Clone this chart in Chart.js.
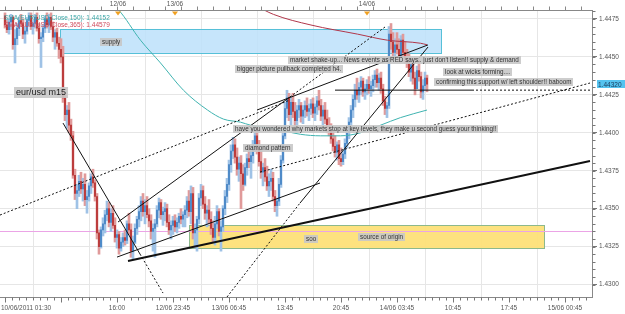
<!DOCTYPE html>
<html><head><meta charset="utf-8">
<script src="https://cdn.jsdelivr.net/npm/chart.js@4.4.1/dist/chart.umd.min.js"></script>
<style>html,body{margin:0;padding:0;background:#fff;}</style>
</head><body>
<canvas id="c" width="625" height="314"></canvas>
<script>
// ---- data: EUR/USD m15 candles (index = candle number) ----
const firstOpen = 1.4477;
const highs = [
1.4479,1.4474,1.4475,1.4478,1.4477,1.4468,1.4472,1.4476,1.4478,1.4475,
1.4470,1.4476,1.4479,1.4479,1.4474,1.4478,1.4479,1.4472,1.4466,1.4471,
1.4477,1.4479,1.4478,1.4479,1.4473,1.4468,1.4469,1.4463,1.4462,1.4457,
1.4426,1.4418,1.4420,1.4409,1.4401,1.4376,1.4366,1.4372,1.4374,1.4370,
1.4373,1.4362,1.4367,1.4373,1.4376,1.4369,1.4360,1.4336,1.4338,1.4344,
1.4349,1.4355,1.4354,1.4350,1.4352,1.4344,1.4336,1.4335,1.4331,1.4334,
1.4336,1.4342,1.4347,1.4340,1.4332,1.4340,1.4345,1.4352,1.4358,1.4360,
1.4356,1.4358,1.4350,1.4346,1.4340,1.4343,1.4352,1.4357,1.4356,1.4351,
1.4354,1.4353,1.4346,1.4342,1.4345,1.4346,1.4344,1.4347,1.4350,1.4348,
1.4352,1.4358,1.4362,1.4365,1.4364,1.4340,1.4345,1.4360,1.4366,1.4365,
1.4358,1.4352,1.4356,1.4348,1.4342,1.4345,1.4352,1.4350,1.4342,1.4352,
1.4362,1.4370,1.4382,1.4392,1.4397,1.4396,1.4390,1.4384,1.4385,1.4379,
1.4380,1.4386,1.4390,1.4388,1.4395,1.4403,1.4404,1.4395,1.4388,1.4380,
1.4383,1.4378,1.4373,1.4376,1.4374,1.4362,1.4357,1.4370,1.4385,1.4402,
1.4420,1.4428,1.4426,1.4424,1.4426,1.4420,1.4418,1.4422,1.4420,1.4418,
1.4421,1.4423,1.4419,1.4422,1.4423,1.4419,1.4424,1.4428,1.4422,1.4418,
1.4420,1.4415,1.4410,1.4406,1.4401,1.4398,1.4394,1.4395,1.4390,1.4388,
1.4396,1.4403,1.4410,1.4418,1.4425,1.4432,1.4436,1.4433,1.4437,1.4436,
1.4432,1.4435,1.4437,1.4434,1.4438,1.4441,1.4442,1.4439,1.4440,1.4432,
1.4424,1.4420,1.4470,1.4472,1.4466,1.4462,1.4466,1.4462,1.4464,1.4465,
1.4460,1.4455,1.4452,1.4448,1.4449,1.4440,1.4444,1.4448,1.4440,1.4435,
1.4440,1.4438];
const lows = [
1.4469,1.4466,1.4465,1.4468,1.4455,1.4446,1.4458,1.4464,1.4470,1.4462,
1.4459,1.4465,1.4470,1.4468,1.4465,1.4469,1.4467,1.4459,1.4443,1.4460,
1.4466,1.4469,1.4466,1.4468,1.4460,1.4455,1.4457,1.4449,1.4446,1.4420,
1.4408,1.4403,1.4400,1.4395,1.4370,1.4356,1.4350,1.4358,1.4360,1.4355,
1.4352,1.4347,1.4355,1.4360,1.4364,1.4355,1.4330,1.4320,1.4324,1.4332,
1.4334,1.4342,1.4338,1.4335,1.4337,1.4328,1.4324,1.4320,1.4322,1.4325,
1.4326,1.4327,1.4333,1.4318,1.4317,1.4327,1.4333,1.4338,1.4342,1.4345,
1.4340,1.4344,1.4338,1.4330,1.4322,1.4318,1.4338,1.4344,1.4343,1.4339,
1.4342,1.4338,1.4333,1.4330,1.4333,1.4335,1.4334,1.4337,1.4340,1.4338,
1.4338,1.4344,1.4345,1.4340,1.4330,1.4324,1.4322,1.4340,1.4352,1.4350,
1.4343,1.4338,1.4340,1.4333,1.4328,1.4326,1.4337,1.4332,1.4322,1.4335,
1.4346,1.4354,1.4362,1.4374,1.4383,1.4380,1.4372,1.4368,1.4350,1.4362,
1.4365,1.4372,1.4377,1.4370,1.4380,1.4388,1.4386,1.4378,1.4370,1.4365,
1.4368,1.4362,1.4358,1.4362,1.4355,1.4348,1.4345,1.4352,1.4364,1.4380,
1.4396,1.4410,1.4408,1.4405,1.4410,1.4404,1.4405,1.4410,1.4407,1.4406,
1.4410,1.4411,1.4408,1.4412,1.4410,1.4408,1.4412,1.4415,1.4408,1.4405,
1.4406,1.4400,1.4398,1.4393,1.4388,1.4384,1.4382,1.4379,1.4378,1.4379,
1.4383,1.4390,1.4396,1.4402,1.4410,1.4417,1.4422,1.4420,1.4425,1.4424,
1.4422,1.4425,1.4426,1.4424,1.4427,1.4430,1.4430,1.4428,1.4426,1.4418,
1.4412,1.4410,1.4416,1.4455,1.4450,1.4448,1.4452,1.4447,1.4447,1.4450,
1.4446,1.4443,1.4437,1.4434,1.4432,1.4425,1.4430,1.4434,1.4423,1.4422,
1.4428,1.4427];
const closes = [
1.4471,1.4468,1.4473,1.4476,1.4458,1.4462,1.4469,1.4474,1.4472,1.4465,
1.4467,1.4474,1.4477,1.4470,1.4472,1.4476,1.4469,1.4462,1.4463,1.4469,
1.4475,1.4471,1.4476,1.4470,1.4463,1.4466,1.4459,1.4455,1.4450,1.4423,
1.4412,1.4415,1.4405,1.4398,1.4372,1.4360,1.4362,1.4368,1.4363,1.4366,
1.4356,1.4358,1.4365,1.4371,1.4367,1.4358,1.4334,1.4325,1.4336,1.4340,
1.4346,1.4350,1.4341,1.4347,1.4339,1.4331,1.4333,1.4324,1.4328,1.4331,
1.4329,1.4340,1.4336,1.4322,1.4328,1.4337,1.4343,1.4348,1.4355,1.4348,
1.4352,1.4346,1.4342,1.4335,1.4337,1.4340,1.4349,1.4354,1.4346,1.4348,
1.4350,1.4341,1.4336,1.4339,1.4342,1.4338,1.4341,1.4345,1.4343,1.4346,
1.4349,1.4355,1.4348,1.4360,1.4334,1.4336,1.4343,1.4357,1.4362,1.4353,
1.4347,1.4349,1.4343,1.4337,1.4331,1.4340,1.4348,1.4335,1.4338,1.4350,
1.4358,1.4366,1.4379,1.4388,1.4392,1.4384,1.4376,1.4380,1.4373,1.4366,
1.4377,1.4383,1.4381,1.4385,1.4392,1.4398,1.4389,1.4381,1.4374,1.4377,
1.4371,1.4365,1.4368,1.4370,1.4358,1.4352,1.4355,1.4366,1.4382,1.4398,
1.4416,1.4423,1.4412,1.4420,1.4414,1.4408,1.4415,1.4418,1.4411,1.4415,
1.4418,1.4414,1.4416,1.4419,1.4413,1.4417,1.4421,1.4418,1.4411,1.4415,
1.4409,1.4404,1.4401,1.4396,1.4391,1.4387,1.4392,1.4383,1.4381,1.4386,
1.4393,1.4400,1.4407,1.4415,1.4422,1.4428,1.4425,1.4430,1.4434,1.4427,
1.4429,1.4432,1.4429,1.4431,1.4435,1.4438,1.4433,1.4436,1.4429,1.4421,
1.4416,1.4418,1.4465,1.4460,1.4453,1.4458,1.4455,1.4450,1.4461,1.4453,
1.4449,1.4446,1.4440,1.4445,1.4436,1.4429,1.4441,1.4437,1.4427,1.4431,
1.4436,1.4432];

// moving averages (candle index, value)
const sma150Idx = [52, 56.75, 67.75, 77.75, 89.25, 101.25, 109.25, 117.75, 122.75, 132.75, 140.25, 147.75, 157.75, 167.75, 177.75, 187.75, 197.75, 211];
const sma150Val = [1.4486, 1.4481, 1.4461, 1.4446, 1.4428, 1.4415, 1.4409, 1.4407, 1.4405, 1.4403, 1.4401, 1.4399, 1.4398, 1.4398, 1.4400, 1.4405, 1.4410, 1.4415];
const sma365Idx = [125, 134.25, 153, 176.25, 191.25, 207.75, 211];
const sma365Val = [1.4484, 1.4478, 1.4471, 1.4465, 1.4461, 1.4459, 1.4458];
const smaLegend = ["SMA(EUR/USD,Close,150): 1.44152", "SMA(EUR/USD,Close,365): 1.44579"];

// x-axis labels (candle index of each major tick)
const xTickIdx = [0, 28, 56, 84, 112, 140, 168, 196, 224, 252, 280];
const xTickLabels = ["10/06/2011 01:30", "", "16:00", "12/06 23:45", "13/06 06:45", "13:45", "20:45", "14/06 03:45", "10:45", "17:45", "15/06 00:45"];
const dayIdx = [56.5, 85, 181];
const dayLabels = ["12/06", "13/06", "14/06"];
const yTicks = [1.4300, 1.4325, 1.4350, 1.4375, 1.4400, 1.4425, 1.4450, 1.4475];
const lastPrice = 1.44320;

// zones [fromIdx, toIdx, lowPrice, highPrice]
const supplyZone = [27.5, 218, 1.44526, 1.44684];
const originZone = [92, 269.5, 1.43241, 1.43392];
const pinkLevel = 1.43353;

// trend lines [x1, y1, x2, y2, dashed?, width]
const trendLines = [
  [29, 1.44064, 67.5, 1.43201, false, 1],
  [67.5, 1.43201, 79, 1.42944, true, 1],
  [61.5, 1.43155, 292.5, 1.43814, false, 2],
  [-2.5, 1.43458, 142.5, 1.44216, true, 1],
  [56, 1.43181, 157.5, 1.43669, false, 1],
  [56.5, 1.43412, 142.5, 1.44236, false, 1],
  [142.5, 1.44236, 190, 1.44697, true, 1],
  [126, 1.44150, 211.5, 1.44579, false, 1],
  [111, 1.42918, 147.5, 1.43537, true, 1],
  [147.5, 1.43537, 211.5, 1.44565, false, 1],
  [127.5, 1.43741, 292.5, 1.44328, true, 1],
  [165, 1.44281, 233.5, 1.44281, false, 1],
  [233.5, 1.44281, 292.5, 1.44281, true, 1]
];

// text notes [idx, price, text, align]
const notes = [
  [53, 1.44598, "supply", "center"],
  [141.5, 1.44480, "market shake-up... News events as RED says.. just don't listen!! supply & demand", "left"],
  [115, 1.44420, "bigger picture pullback completed h4.", "left"],
  [219, 1.44401, "look at wicks forming....", "left"],
  [214.5, 1.44335, "confirming this support w/ left shoulder!! baboom", "left"],
  [114, 1.44025, "have you wondered why markets stop at key levels, they make u second guess your thinking!!", "left"],
  [119, 1.43900, "diamond pattern", "left"],
  [149.5, 1.43300, "soo", "left"],
  [176.5, 1.43313, "source of origin", "left"]
];

// ---- build datasets ----
const opens = closes.map((c, i) => i === 0 ? firstOpen : closes[i - 1]);
const UP = '#3f7fc2', DOWN = '#b52a2a', UPW = '#9fc2e6', DOWNW = '#e09a9a';
const wickData = highs.map((h, i) => ({x: i, y: [Math.min(lows[i], opens[i], closes[i]), Math.max(h, opens[i], closes[i])]}));
const bodyData = closes.map((c, i) => ({x: i, y: [opens[i], c === opens[i] ? c + 0.00002 : c]}));
const wickCol = closes.map((c, i) => c >= opens[i] ? UPW : DOWNW);
const bodyCol = closes.map((c, i) => c >= opens[i] ? UP : DOWN);

const datasets = [
  {type: 'bar', data: wickData, backgroundColor: wickCol, barThickness: 2, grouped: false, order: 20},
  {type: 'bar', data: bodyData, backgroundColor: bodyCol, barThickness: 1, grouped: false, order: 19},
  {type: 'line', data: sma150Idx.map((x, i) => ({x, y: sma150Val[i]})), borderColor: '#3fb3b0', borderWidth: 1, pointRadius: 0, cubicInterpolationMode: 'monotone', order: 5},
  {type: 'line', data: sma365Idx.map((x, i) => ({x, y: sma365Val[i]})), borderColor: '#b0364a', borderWidth: 1, pointRadius: 0, cubicInterpolationMode: 'monotone', order: 5}
];
trendLines.forEach(t => datasets.push({
  type: 'line', data: [{x: t[0], y: t[1]}, {x: t[2], y: t[3]}], borderColor: '#111',
  borderWidth: t[5], borderDash: t[4] ? [2, 2] : [], pointRadius: 0, order: 2
}));

const FONT = '"Liberation Sans", Arial, sans-serif';

const extras = {
  id: 'extras',
  beforeDatasetsDraw(chart) {
    const {ctx, chartArea: a, scales: {x, y}} = chart;
    ctx.save();
    ctx.beginPath(); ctx.rect(a.left, a.top, a.right - a.left, a.bottom - a.top); ctx.clip();
    const zone = (z, fill, stroke) => {
      const x1 = x.getPixelForValue(z[0]), x2 = x.getPixelForValue(z[1]);
      const y1 = y.getPixelForValue(z[3]), y2 = y.getPixelForValue(z[2]);
      ctx.fillStyle = fill; ctx.fillRect(x1, y1, x2 - x1, y2 - y1);
      ctx.strokeStyle = stroke; ctx.lineWidth = 1;
      ctx.strokeRect(Math.round(x1) + 0.5, Math.round(y1) + 0.5, Math.round(x2 - x1), Math.round(y2 - y1));
    };
    zone(supplyZone, 'rgba(188,224,250,0.85)', '#56c0d8');
    zone(originZone, 'rgba(253,224,120,0.95)', '#8cb88c');
    const py = Math.round(y.getPixelForValue(pinkLevel)) + 0.5;
    ctx.strokeStyle = '#eba4e6'; ctx.beginPath(); ctx.moveTo(a.left, py); ctx.lineTo(a.right, py); ctx.stroke();
    ctx.restore();
  },
  afterDraw(chart) {
    const {ctx, chartArea: a, scales: {x, y}} = chart;
    ctx.save();
    // notes
    ctx.font = '6.3px ' + FONT; ctx.textBaseline = 'middle';
    notes.forEach(n => {
      const px = x.getPixelForValue(n[0]), py = y.getPixelForValue(n[1]);
      const w = ctx.measureText(n[2]).width + 4;
      const left = n[3] === 'center' ? px - w / 2 : px;
      ctx.fillStyle = 'rgba(200,200,200,0.9)';
      ctx.fillRect(Math.round(left), Math.round(py - 4), Math.round(w), 8);
      ctx.fillStyle = '#333'; ctx.textAlign = 'left';
      ctx.fillText(n[2], Math.round(left) + 2, py + 0.5);
    });
    // watermark label
    ctx.font = '9px ' + FONT;
    const wt = 'eur/usd m15', ww = ctx.measureText(wt).width + 4;
    ctx.fillStyle = 'rgba(200,200,200,0.9)'; ctx.fillRect(14, 87, ww, 11);
    ctx.fillStyle = '#222'; ctx.fillText(wt, 16, 93);
    // legend texts
    ctx.font = '6.5px ' + FONT;
    ctx.fillStyle = '#3aa6a6'; ctx.fillText(smaLegend[0], 4, 18);
    ctx.fillStyle = '#d0485a'; ctx.fillText(smaLegend[1], 4, 25);
    // top axis
    const top = Math.round(a.top) + 0.5;
    ctx.strokeStyle = '#888'; ctx.lineWidth = 1;
    ctx.beginPath(); ctx.moveTo(a.left, top); ctx.lineTo(a.right, top); ctx.stroke();
    for (let v = 0; v <= 292; v += 8) {
      const px = Math.round(x.getPixelForValue(v)) + 0.5;
      ctx.beginPath(); ctx.moveTo(px, top); ctx.lineTo(px, top - 4); ctx.stroke();
    }
    ctx.font = '6.5px ' + FONT; ctx.textAlign = 'center'; ctx.fillStyle = '#555';
    dayIdx.forEach((d, i) => {
      const px = x.getPixelForValue(d);
      ctx.fillText(dayLabels[i], px, 4);
      ctx.fillStyle = '#f0a020';
      ctx.beginPath(); ctx.moveTo(px - 3, top + 1); ctx.lineTo(px + 3, top + 1); ctx.lineTo(px, top + 5); ctx.closePath(); ctx.fill();
      ctx.fillStyle = '#555';
    });
    // bottom axis ticks + labels
    const bot = Math.round(a.bottom) + 0.5;
    ctx.strokeStyle = '#777';
    for (let v = 0; v <= 292; v += 3.5) {
      const px = Math.round(x.getPixelForValue(v)) + 0.5;
      const major = Math.abs(v % 28) < 0.01;
      ctx.beginPath(); ctx.moveTo(px, bot); ctx.lineTo(px, bot + (major ? 5 : 3)); ctx.stroke();
    }
    xTickIdx.forEach((v, i) => {
      if (!xTickLabels[i]) return;
      const px = x.getPixelForValue(v);
      ctx.textAlign = i === 0 ? 'left' : 'center';
      ctx.fillText(xTickLabels[i], i === 0 ? 1 : px, 308);
    });
    // right axis minor ticks
    const rx = Math.round(a.right) + 0.5;
    for (let p = 1.4300; p <= 1.4480; p += 0.0005) {
      const py = Math.round(y.getPixelForValue(p)) + 0.5;
      if (py < a.top || py > a.bottom) continue;
      ctx.beginPath(); ctx.moveTo(rx, py); ctx.lineTo(rx + 3, py); ctx.stroke();
    }
    // last price tag
    const ly = y.getPixelForValue(lastPrice);
    ctx.fillStyle = '#55c3ef'; ctx.fillRect(597, Math.round(ly) - 4, 28, 8);
    ctx.fillStyle = '#1a3a5a'; ctx.textAlign = 'left'; ctx.fillText(lastPrice.toFixed(5), 598, ly + 0.5);
    ctx.restore();
  }
};

new Chart(document.getElementById('c'), {
  type: 'bar',
  data: {datasets},
  options: {
    responsive: false, animation: false, devicePixelRatio: 1,
    layout: {padding: {top: 10, left: 0, right: 0, bottom: 0}},
    plugins: {legend: {display: false}, tooltip: {enabled: false}},
    scales: {
      x: {
        type: 'linear', min: -2.5, max: 293.5, position: 'bottom', offset: false,
        afterBuildTicks: s => { s.ticks = xTickIdx.map(v => ({value: v})); },
        afterFit: s => { s.height = 17; },
        ticks: {display: false},
        grid: {color: '#e6e6e6', drawTicks: false},
        border: {color: '#888'}
      },
      y: {
        type: 'linear', position: 'right', min: 1.42918, max: 1.44809,
        afterBuildTicks: s => { s.ticks = yTicks.map(v => ({value: v})); },
        afterFit: s => { s.width = 33; },
        ticks: {callback: v => v.toFixed(4), font: {size: 6.5, family: FONT}, color: '#555', padding: 2},
        grid: {color: '#e6e6e6', tickLength: 5, tickColor: '#777'},
        border: {color: '#888'}
      }
    }
  },
  plugins: [extras]
});
</script>
</body></html>
